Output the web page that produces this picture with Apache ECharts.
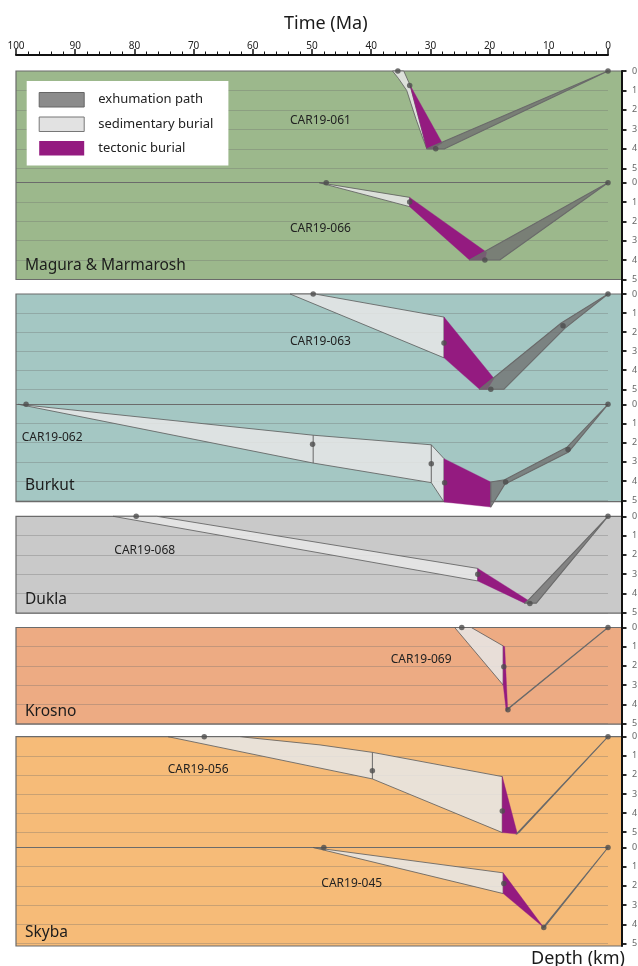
<!DOCTYPE html>
<html>
<head>
<meta charset="utf-8">
<script src="https://cdn.jsdelivr.net/npm/echarts@6/dist/echarts.min.js"></script>
<style>
  html, body { margin: 0; padding: 0; background: #ffffff; }
  #chart { width: 638px; height: 966px; }
</style>
</head>
<body>
<div id="chart"></div>
<script>
// Burial / exhumation envelopes per sample. Vertices are [time (Ma), depth (km)].
const car061Sed  = [[36.4, 0], [34.5, 0], [33.45, 0.72], [30.6, 4.0], [31.4, 3.35], [32.4, 2.5], [33.3, 1.66], [34.0, 1.0], [35.4, 0.38]];
const car061Tect = [[33.45, 0.72], [28.0, 3.7], [29.6, 4.0], [30.6, 4.0]];
const car061Exh  = [[30.6, 4.0], [27.6, 4.0], [0, 0]];
const car061Pts  = [[35.5, 0], [33.5, 0.75], [29.1, 4.0], [0, 0]];

const car066Sed  = [[48.8, 0], [33.5, 0.76], [33.5, 1.24]];
const car066Tect = [[33.5, 0.76], [20.5, 3.6], [20.8, 4.0], [23.4, 4.0], [33.5, 1.24]];
const car066Exh  = [[23.4, 4.0], [18.3, 4.0], [0, 0]];
const car066Pts  = [[47.6, 0], [33.5, 1.0], [20.8, 4.0], [0, 0]];

const car063Sed  = [[53.7, 0], [49.5, 0], [27.7, 1.21], [27.7, 3.35]];
const car063Tect = [[27.7, 1.21], [19.25, 4.43], [20.4, 5.0], [21.7, 5.0], [27.7, 3.35]];
const car063Exh  = [[21.7, 5.0], [17.6, 5.0], [7.3, 1.8], [0, 0], [7.9, 1.52]];
const car063Pts  = [[49.8, 0], [27.7, 2.57], [19.8, 5.0], [7.6, 1.67], [0, 0]];

const car062Sed  = [[99.6, 0], [49.8, 1.61], [29.85, 2.11], [27.7, 2.83], [27.7, 5.09], [29.85, 4.08], [49.8, 3.06]];
const car062Bars = [[49.8, 1.61, 3.06], [29.85, 2.11, 4.08]];
const car062Tect = [[27.7, 2.83], [19.8, 4.05], [19.8, 5.35], [27.7, 5.09]];
const car062Exh  = [[19.8, 4.05], [17.45, 3.93], [6.87, 2.22], [0, 0], [6.64, 2.48], [17.45, 4.17], [19.8, 5.35]];
const car062Pts  = [[98.3, 0], [49.9, 2.08], [29.85, 3.09], [27.6, 4.08], [17.3, 4.05], [6.75, 2.36], [0, 0]];

const car068Sed  = [[83.6, 0], [76.2, 0], [22.0, 2.70], [22.0, 3.35]];
const car068Tect = [[22.0, 2.70], [13.5, 4.35], [14.1, 4.5], [22.0, 3.35]];
const car068Exh  = [[14.1, 4.5], [12.1, 4.5], [0, 0], [13.5, 4.35]];
const car068Pts  = [[79.7, 0], [22.0, 3.0], [13.2, 4.52], [0, 0]];

const car069Sed  = [[25.9, 0], [23.1, 0], [17.7, 0.96], [17.7, 3.0]];
const car069Tect = [[17.7, 0.96], [17.45, 1.0], [16.95, 4.25], [17.2, 4.33], [17.7, 3.0]];
const car069Exh  = [[17.15, 4.32], [16.8, 4.2], [0, 0]];
const car069Pts  = [[24.7, 0], [17.6, 2.05], [16.9, 4.28], [0, 0]];

const car056Sed  = [[74.3, 0], [62.2, 0], [48.65, 0.43], [39.8, 0.82], [17.85, 2.09], [17.85, 5.02], [39.8, 2.21]];
const car056Bars = [[39.8, 0.82, 2.21]];
const car056Tect = [[17.85, 2.09], [15.3, 5.1], [17.85, 5.02]];
const car056Exh  = [[15.5, 5.1], [15.0, 5.0], [0, 0]];
const car056Pts  = [[68.2, 0], [39.8, 1.78], [17.85, 3.89], [15.3, 5.07], [0, 0]];

const car045Sed  = [[49.8, 0], [17.7, 1.32], [17.7, 2.4]];
const car045Tect = [[17.7, 1.32], [10.85, 4.17], [17.7, 2.4]];
const car045Exh  = [[11.05, 4.2], [10.65, 4.12], [0, 0]];
const car045Pts  = [[48.0, 0], [17.6, 1.88], [10.85, 4.17], [0, 0]];

const sampleNames = ['CAR19-061', 'CAR19-066', 'CAR19-063', 'CAR19-062', 'CAR19-068', 'CAR19-069', 'CAR19-056', 'CAR19-045'];
const unitNames = ['Magura & Marmarosh', 'Burkut', 'Dukla', 'Krosno', 'Skyba'];
const legendNames = ['exhumation path', 'sedimentary burial', 'tectonic burial'];

// ---- styling ----
const FONT = 'Noto Sans';
const SED_FILL = 'rgba(230,230,230,0.86)';
const SED_LINE = '#5a5a5a';
const TECT_FILL = '#941b80';
const EXH_FILL = 'rgba(112,112,112,0.78)';
const EXH_LINE = '#6a6a6a';
const DOT = '#4d4d4d';
const GRID_LINE = 'rgba(105,105,105,0.32)';
const DIVIDER = '#6b6b6b';

// tectonic units: background bands
const units = [
  { top: 71,    height: 208.5, color: '#9cb88c', labelY: 265.5 },
  { top: 294,   height: 207.7, color: '#a4c7c3', labelY: 486 },
  { top: 516.3, height: 96.9,  color: '#c9c9c9', labelY: 600 },
  { top: 627.5, height: 96.7,  color: '#edab83', labelY: 711.7 },
  { top: 736.7, height: 209.3, color: '#f6bb78', labelY: 933 }
];

// one depth track (0–5 km) per sample
const tracks = [
  { top: 71,    h: 97.3, lower: false, sed: car061Sed, tect: car061Tect, exh: car061Exh, pts: car061Pts, bars: [],         lx: 290,   ly: 120.7 },
  { top: 182.7, h: 96.6, lower: true,  sed: car066Sed, tect: car066Tect, exh: car066Exh, pts: car066Pts, bars: [],         lx: 290,   ly: 228.5 },
  { top: 294,   h: 95.3, lower: false, sed: car063Sed, tect: car063Tect, exh: car063Exh, pts: car063Pts, bars: [],         lx: 290,   ly: 341.7 },
  { top: 404.3, h: 96,   lower: true,  sed: car062Sed, tect: car062Tect, exh: car062Exh, pts: car062Pts, bars: car062Bars, lx: 21.7,  ly: 437.7 },
  { top: 516.3, h: 96.5, lower: false, sed: car068Sed, tect: car068Tect, exh: car068Exh, pts: car068Pts, bars: [],         lx: 114.3, ly: 550.7 },
  { top: 627.5, h: 96,   lower: false, sed: car069Sed, tect: car069Tect, exh: car069Exh, pts: car069Pts, bars: [],         lx: 390.7, ly: 660 },
  { top: 736.7, h: 95.5, lower: false, sed: car056Sed, tect: car056Tect, exh: car056Exh, pts: car056Pts, bars: car056Bars, lx: 167.7, ly: 769.3 },
  { top: 847.5, h: 96,   lower: true,  sed: car045Sed, tect: car045Tect, exh: car045Exh, pts: car045Pts, bars: [],         lx: 321.3, ly: 884 }
];

const grid = [], xAxis = [], yAxis = [], series = [], graphic = [];
const gridBase = { outerBoundsMode: 'none', containLabel: false };

// time scale on top
grid.push(Object.assign({ left: 16, right: 30, top: 55, height: 1 }, gridBase));
xAxis.push({
  gridIndex: 0, type: 'value', position: 'top', min: 0, max: 100, interval: 10, inverse: true,
  axisLine: { show: true, onZero: false, lineStyle: { color: '#111', width: 2 } },
  axisTick: { show: true, length: 6, lineStyle: { color: '#111', width: 1.5 } },
  minorTick: { show: true, splitNumber: 5, length: 3.5, lineStyle: { color: '#111', width: 1 } },
  axisLabel: { fontSize: 10, color: '#222', margin: 4, fontFamily: FONT },
  splitLine: { show: false }, minorSplitLine: { show: false }
});
yAxis.push({ gridIndex: 0, type: 'value', show: false, min: 0, max: 1 });

// continuous depth-axis spine on the right
grid.push(Object.assign({ left: 16, right: 16, top: 71, height: 875 }, gridBase));
xAxis.push({ gridIndex: 1, type: 'value', show: false, min: 0, max: 1 });
yAxis.push({
  gridIndex: 1, type: 'value', position: 'right', min: 0, max: 1, z: 10,
  axisLine: { show: true, onZero: false, lineStyle: { color: '#111', width: 2 } },
  axisTick: { show: false }, axisLabel: { show: false }, splitLine: { show: false }
});

// unit backgrounds
units.forEach((u, i) => {
  const gi = grid.length;
  grid.push(Object.assign({
    left: 16, right: 16, top: u.top, height: u.height, show: true, z: 0,
    backgroundColor: u.color, borderColor: '#6b6b6b', borderWidth: 1.2
  }, gridBase));
  xAxis.push({ gridIndex: gi, type: 'value', show: false, min: 0, max: 1 });
  yAxis.push({ gridIndex: gi, type: 'value', show: false, min: 0, max: 1 });
  graphic.push({
    type: 'text', x: 25, y: u.labelY, z: 30,
    style: { text: unitNames[i], fontSize: 15.5, fontFamily: FONT, fill: '#1c1c1c', align: 'left', verticalAlign: 'middle' }
  });
});

function polygonSeries(name, idx, verts, fill, stroke, lw, z) {
  return {
    type: 'custom', name, xAxisIndex: idx, yAxisIndex: idx, z, clip: false, silent: true,
    itemStyle: { color: fill }, data: verts,
    renderItem(params, api) {
      if (params.dataIndex !== 0) return null;
      return {
        type: 'polygon',
        shape: { points: verts.map(v => api.coord(v)) },
        style: { fill, stroke, lineWidth: lw, lineJoin: 'round' }
      };
    }
  };
}

tracks.forEach((t, i) => {
  const gi = grid.length;
  grid.push(Object.assign({ left: 16, right: 30, top: t.top, height: t.h }, gridBase));
  xAxis.push({ gridIndex: gi, type: 'value', min: 0, max: 100, inverse: true, show: false });
  const lineColors = [t.lower ? DIVIDER : 'rgba(0,0,0,0)', GRID_LINE, GRID_LINE, GRID_LINE, GRID_LINE, GRID_LINE];
  yAxis.push({
    gridIndex: gi, type: 'value', min: 0, max: 5, interval: 1, inverse: true,
    position: 'right', offset: 14, z: 2,
    axisLine: { show: false, onZero: false },
    axisTick: { show: true, length: 4.5, lineStyle: { color: '#111', width: 1.8 } },
    axisLabel: { color: '#666', fontSize: 9, margin: 10, fontFamily: FONT },
    splitLine: { show: true, lineStyle: { color: lineColors, width: 1 } }
  });

  series.push(polygonSeries(legendNames[1], gi, t.sed, SED_FILL, SED_LINE, 0.8, 3));
  series.push(polygonSeries(legendNames[2], gi, t.tect, TECT_FILL, 'rgba(148,27,128,0.9)', 0.4, 4));
  series.push(polygonSeries(legendNames[0], gi, t.exh, EXH_FILL, EXH_LINE, 1.1, 5));
  if (t.bars.length) {
    series.push({
      type: 'custom', xAxisIndex: gi, yAxisIndex: gi, z: 6, silent: true, clip: false,
      data: t.bars, encode: { x: 0, y: [1, 2] },
      renderItem(params, api) {
        const a = api.coord([api.value(0), api.value(1)]);
        const b = api.coord([api.value(0), api.value(2)]);
        return { type: 'line', shape: { x1: a[0], y1: a[1], x2: b[0], y2: b[1] }, style: { stroke: SED_LINE, lineWidth: 0.9 } };
      }
    });
  }
  series.push({
    type: 'scatter', xAxisIndex: gi, yAxisIndex: gi, z: 7, silent: true,
    symbol: 'circle', symbolSize: 5.5, itemStyle: { color: DOT }, data: t.pts
  });

  graphic.push({
    type: 'text', x: t.lx, y: t.ly, z: 30,
    style: { text: sampleNames[i], fontSize: 12, fontFamily: FONT, fill: '#222', align: 'left', verticalAlign: 'middle' }
  });
});

graphic.push({
  type: 'text', x: 284, y: 24, z: 30,
  style: { text: 'Time (Ma)', fontSize: 18, fontFamily: FONT, fill: '#1a1a1a', align: 'left', verticalAlign: 'middle' }
});
graphic.push({
  type: 'text', x: 531, y: 959, z: 30,
  style: { text: 'Depth (km)', fontSize: 18, fontFamily: FONT, fill: '#1a1a1a', align: 'left', verticalAlign: 'middle' }
});

const chart = echarts.init(document.getElementById('chart'), null, { renderer: 'canvas' });
chart.setOption({
  animation: false,
  backgroundColor: '#ffffff',
  textStyle: { fontFamily: FONT },
  grid, xAxis, yAxis, series, graphic,
  legend: {
    show: true, orient: 'vertical', left: 26.7, top: 81, z: 20,
    backgroundColor: '#ffffff', padding: [11, 15, 10, 12],
    itemWidth: 45, itemHeight: 14.5, itemGap: 9, selectedMode: false,
    textStyle: { fontSize: 13, color: '#222', fontFamily: FONT, padding: [0, 0, 0, 9] },
    data: [
      { name: legendNames[0], icon: 'rect', itemStyle: { color: '#8c8c8c', borderColor: '#666', borderWidth: 1 } },
      { name: legendNames[1], icon: 'rect', itemStyle: { color: '#e2e2e2', borderColor: '#777', borderWidth: 1 } },
      { name: legendNames[2], icon: 'rect', itemStyle: { color: TECT_FILL, borderWidth: 0 } }
    ]
  }
});
</script>
</body>
</html>
